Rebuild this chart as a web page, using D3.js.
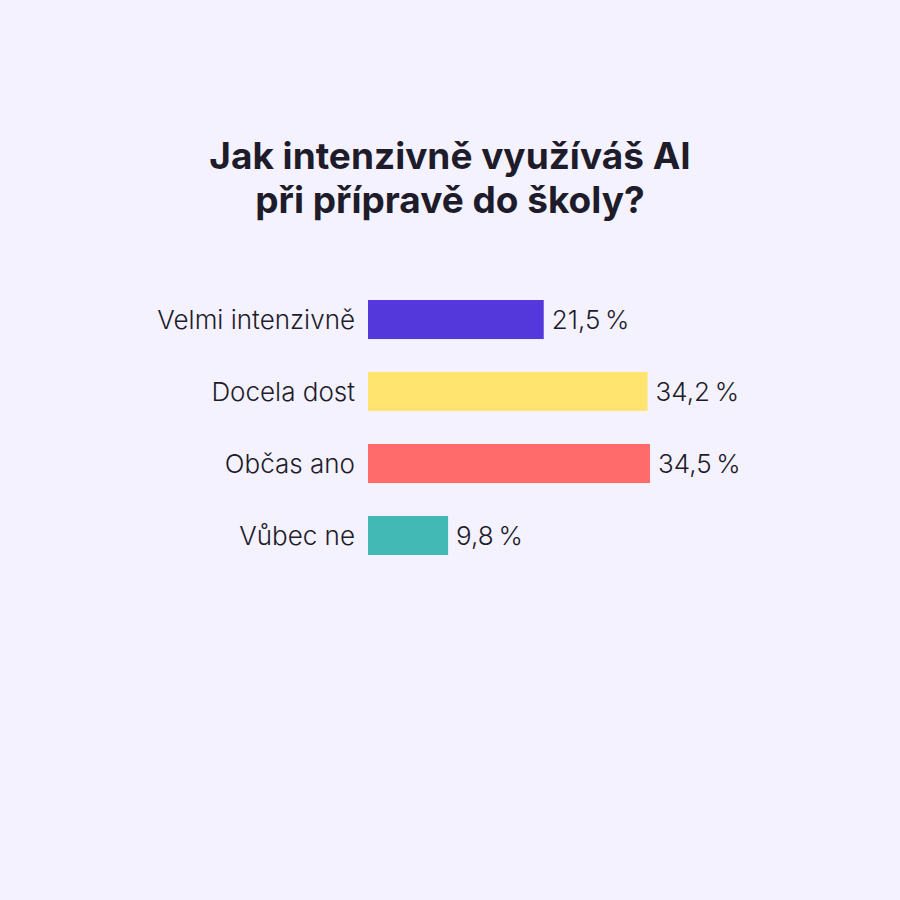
<!DOCTYPE html>
<html>
<head>
<meta charset="utf-8">
<script src="https://cdn.jsdelivr.net/npm/d3@7"></script>
<style>
  html, body { margin: 0; padding: 0; background: #f4f2fe; }
  svg { display: block; }
</style>
</head>
<body>
<div id="chart"></div>
<script>
// survey answers
const categories = ['Velmi intenzivně', 'Docela dost', 'Občas ano', 'Vůbec ne'];
const values = [21.5, 34.2, 34.5, 9.8];
const colors = ['#5538dc', '#ffe470', '#ff6b6b', '#43b9b5'];
const titleLines = ['Jak intenzivně využíváš AI', 'při přípravě do školy?'];

const W = 900, H = 900;

const svg = d3.select('#chart')
    .append('svg')
    .attr('width', W)
    .attr('height', H);

svg.append('rect')
    .attr('width', W)
    .attr('height', H)
    .attr('fill', '#f4f2fe');

// title
svg.append('g')
    .selectAll('text')
    .data(titleLines)
    .join('text')
    .attr('x', W / 2)
    .attr('y', (d, i) => 169 + i * 44)
    .attr('text-anchor', 'middle')
    .style('font-family', 'Inter, "Open Sans", sans-serif')
    .style('font-weight', '700')
    .style('font-size', '37px')
    .style('fill', '#1e1c2a')
    .text(d => d);

const x = d3.scaleLinear()
    .domain([0, 34.5])
    .range([368, 650]);

const y = d3.scaleBand()
    .domain(categories)
    .range([300, 555])
    .paddingInner(0.458)
    .paddingOuter(0);

const rows = svg.append('g')
    .selectAll('g')
    .data(categories)
    .join('g');

rows.append('rect')
    .attr('x', x(0))
    .attr('y', d => y(d))
    .attr('width', (d, i) => x(values[i]) - x(0))
    .attr('height', y.bandwidth())
    .attr('fill', (d, i) => colors[i]);

const fontStyle = sel => sel
    .style('font-family', 'Inter, "Open Sans", sans-serif')
    .style('font-weight', '300')
    .style('font-size', '26px')
    .style('fill', '#1e1c2a');

rows.append('text')
    .attr('x', x(0) - 13)
    .attr('y', d => y(d) + y.bandwidth() / 2)
    .attr('dy', '0.35em')
    .attr('text-anchor', 'end')
    .call(fontStyle)
    .text(d => d);

rows.append('text')
    .attr('x', (d, i) => x(values[i]) + 8)
    .attr('y', d => y(d) + y.bandwidth() / 2)
    .attr('dy', '0.35em')
    .call(fontStyle)
    .text((d, i) => values[i].toLocaleString('cs-CZ', {minimumFractionDigits: 1}) + '\u2009%');
</script>
</body>
</html>
